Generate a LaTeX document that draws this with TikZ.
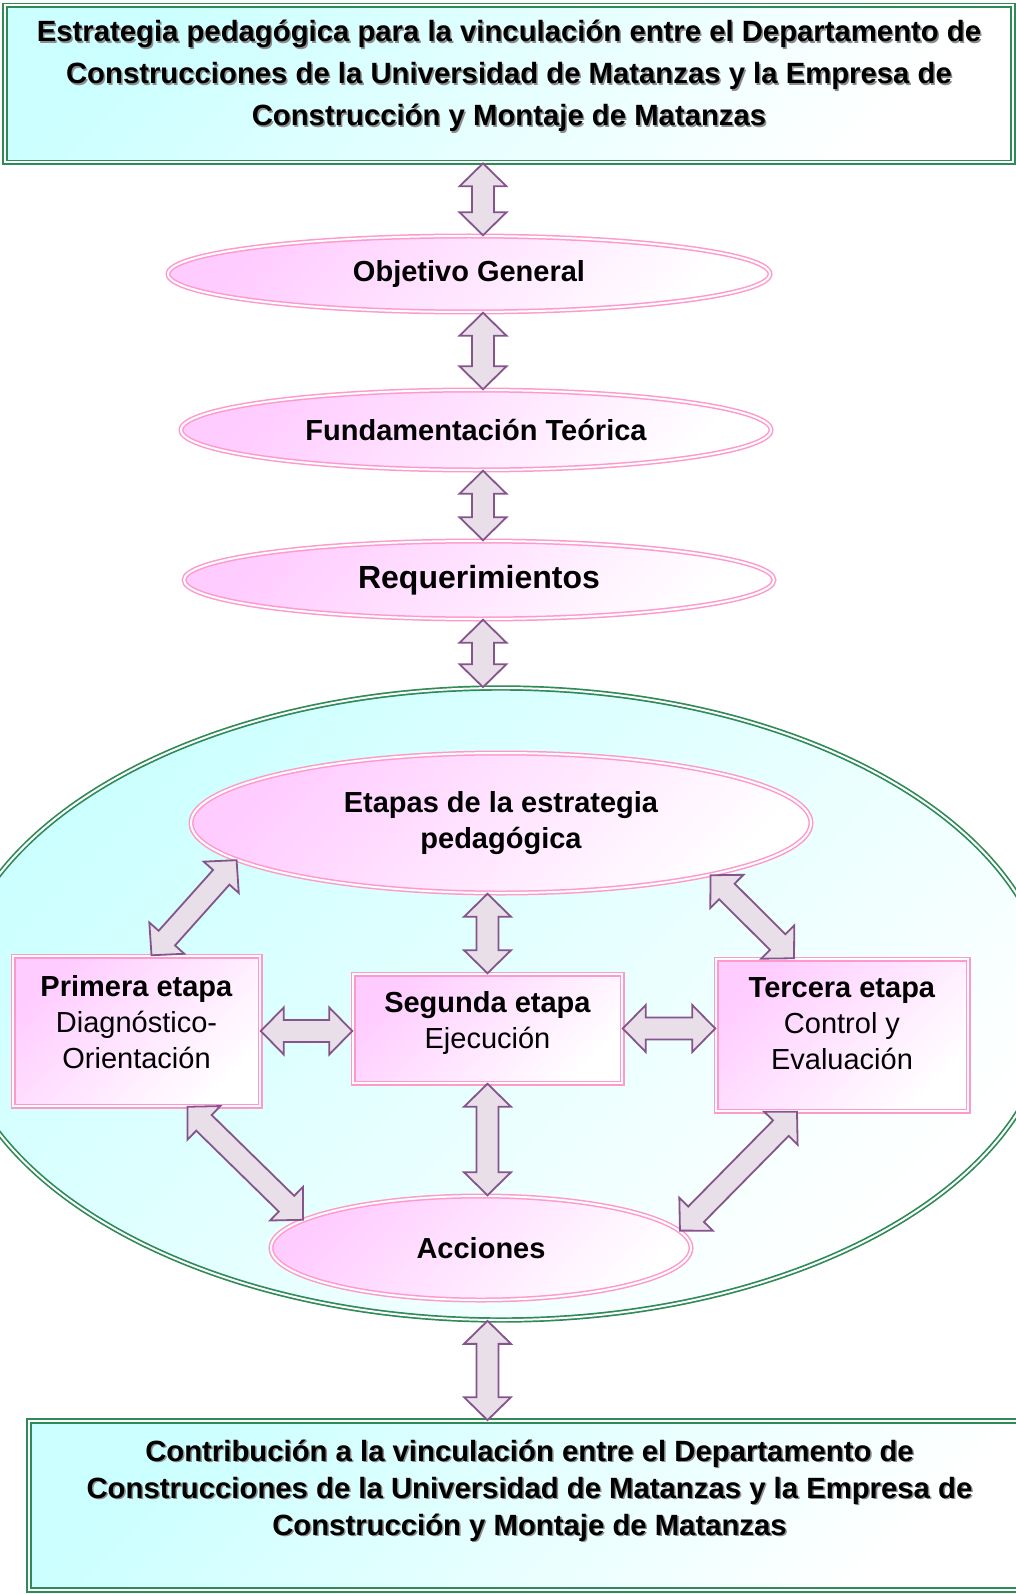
\documentclass[tikz,border=0pt]{standalone}
\usepackage{fontspec}
\setmainfont{Liberation Sans}
\usetikzlibrary{calc, positioning, shapes.geometric}

\definecolor{verde}{RGB}{46,139,87}
\definecolor{cian}{RGB}{204,255,255}
\definecolor{rosa}{RGB}{255,153,204}
\definecolor{rosaclaro}{RGB}{255,204,255}
\definecolor{lila}{RGB}{232,223,232}
\definecolor{morado}{RGB}{134,84,140}

\newcommand\cabeza{23pt}
\newcommand\ala{23.5pt}
\newcommand\cuerpo{11pt}
\newcommand\flecha[2]{%
  \draw[flechadoble] let \p1=(#1), \p2=(#2), \n1={atan2(\y2-\y1,\x2-\x1)} in
    (\p1) -- ($(\p1)+(\n1:\cabeza)+(\n1+90:\ala)$)
    -- ($(\p1)+(\n1:\cabeza)+(\n1+90:\cuerpo)$)
    -- ($(\p2)+(\n1+180:\cabeza)+(\n1+90:\cuerpo)$)
    -- ($(\p2)+(\n1+180:\cabeza)+(\n1+90:\ala)$)
    -- (\p2)
    -- ($(\p2)+(\n1+180:\cabeza)+(\n1-90:\ala)$)
    -- ($(\p2)+(\n1+180:\cabeza)+(\n1-90:\cuerpo)$)
    -- ($(\p1)+(\n1:\cabeza)+(\n1-90:\cuerpo)$)
    -- ($(\p1)+(\n1:\cabeza)+(\n1-90:\ala)$)
    -- cycle;}
\newcommand\textoTitulo{Estrategia pedagógica para la vinculación entre el Departamento de\\
  Construcciones de la Universidad de Matanzas y la Empresa de\\
  Construcción y Montaje de Matanzas}
\newcommand\textoFinal{Contribución a la vinculación entre el Departamento de\\
  Construcciones de la Universidad de Matanzas y la Empresa de\\
  Construcción y Montaje de Matanzas}

\begin{document}
\begin{tikzpicture}[x=1pt, y=-1pt,
  bordeverde/.style={draw=verde, double=white, double distance=2pt, line width=1.7pt},
  borderosa/.style={draw=rosa, double=white, double distance=2pt, line width=1.5pt},
  fondocian/.style={top color=cian, bottom color=white, shading angle=45},
  fondorosa/.style={top color=rosaclaro, bottom color=white, shading angle=45},
  elipse/.style={ellipse, borderosa, fondorosa, inner sep=0pt, align=center,
    font=\bfseries\fontsize{29}{36}\selectfont},
  caja/.style={rectangle, borderosa, fondorosa, inner sep=0pt},
  txtcaja/.style={align=center, font=\fontsize{29}{36}\selectfont},
  txtarriba/.style={align=center, font=\bfseries\fontsize{29.3}{42}\selectfont},
  txtabajo/.style={align=center, font=\bfseries\fontsize{29.3}{37}\selectfont},
  flechadoble/.style={draw=morado, fill=lila, line width=1.8pt, line join=miter}]

\useasboundingbox (0,0) rectangle (1016,1594);

% recuadro superior
\node[rectangle, bordeverde, fondocian, minimum width=1008pt, minimum height=157pt] (titulo) at (509,84) {};
\node[txtarriba, text=black!45, xshift=1.5pt, yshift=6.5pt] (tituloSombra) at (titulo) {\textoTitulo};
\node[txtarriba, yshift=8pt] (tituloTxt) at (titulo) {\textoTitulo};

\node[elipse, minimum width=602pt, minimum height=76pt] (objetivo) at (469,274) {Objetivo General};
\node[elipse, minimum width=590pt, minimum height=80pt] (fundamento) at (476,430) {Fundamentación Teórica};
\node[elipse, minimum width=590pt, minimum height=78pt, font=\bfseries\fontsize{32}{38}\selectfont] (requisitos) at (479,580) {Requerimientos};

% elipse grande con las etapas
\node[ellipse, bordeverde, fondocian, minimum width=1100pt, minimum height=632pt] (marco) at (501,1004) {};
\node[elipse, minimum width=620pt, minimum height=140pt] (etapas) at (501,823) {Etapas de la estrategia\\pedagógica};

\node[caja, minimum width=247pt, minimum height=150pt] (primera) at (136.5,1031) {};
\node[txtcaja, yshift=9pt] (primeraTxt) at (primera) {\textbf{Primera etapa}\\Diagnóstico-\\Orientación};
\node[caja, minimum width=269pt, minimum height=109pt] (segunda) at (487.5,1028.5) {};
\node[txtcaja, yshift=6pt] (segundaTxt) at (segunda) {\textbf{Segunda etapa}\\Ejecución};
\node[caja, minimum width=252pt, minimum height=152pt] (tercera) at (842,1035) {};
\node[txtcaja, yshift=11pt] (terceraTxt) at (tercera) {\textbf{Tercera etapa}\\Control y\\Evaluación};
\node[elipse, minimum width=420pt, minimum height=104pt] (acciones) at (481,1248) {Acciones};

% recuadro inferior
\node[rectangle, bordeverde, fondocian, minimum width=1001pt, minimum height=169pt] (contrib) at (529.5,1505.5) {};
\node[txtabajo, text=black!45, xshift=1.5pt, yshift=13.5pt] (contribSombra) at (contrib) {\textoFinal};
\node[txtabajo, yshift=15pt] (contribTxt) at (contrib) {\textoFinal};

% flechas
\coordinate (eje) at (483,0);
\flecha{eje |- titulo.south}{eje |- objetivo.north}
\flecha{eje |- objetivo.south}{eje |- fundamento.north}
\flecha{eje |- fundamento.south}{eje |- requisitos.north}
\flecha{eje |- requisitos.south}{eje |- marco.north}

\flecha{$(primera.north)+(15,0)$}{etapas.188}
\flecha{segunda.north |- etapas.south}{segunda.north}
\flecha{etapas.346}{$(tercera.north)+(-48,0)$}
\flecha{primera.east}{primera.east -| segunda.west}
\flecha{segunda.east}{segunda.east -| tercera.west}
\flecha{segunda.south}{segunda.south |- acciones.north}
\flecha{$(primera.south)+(51,0)$}{acciones.171}
\flecha{$(tercera.south)+(-45,0)$}{acciones.5}
\flecha{segunda.south |- marco.south}{segunda.south |- contrib.north}

\end{tikzpicture}
\end{document}
